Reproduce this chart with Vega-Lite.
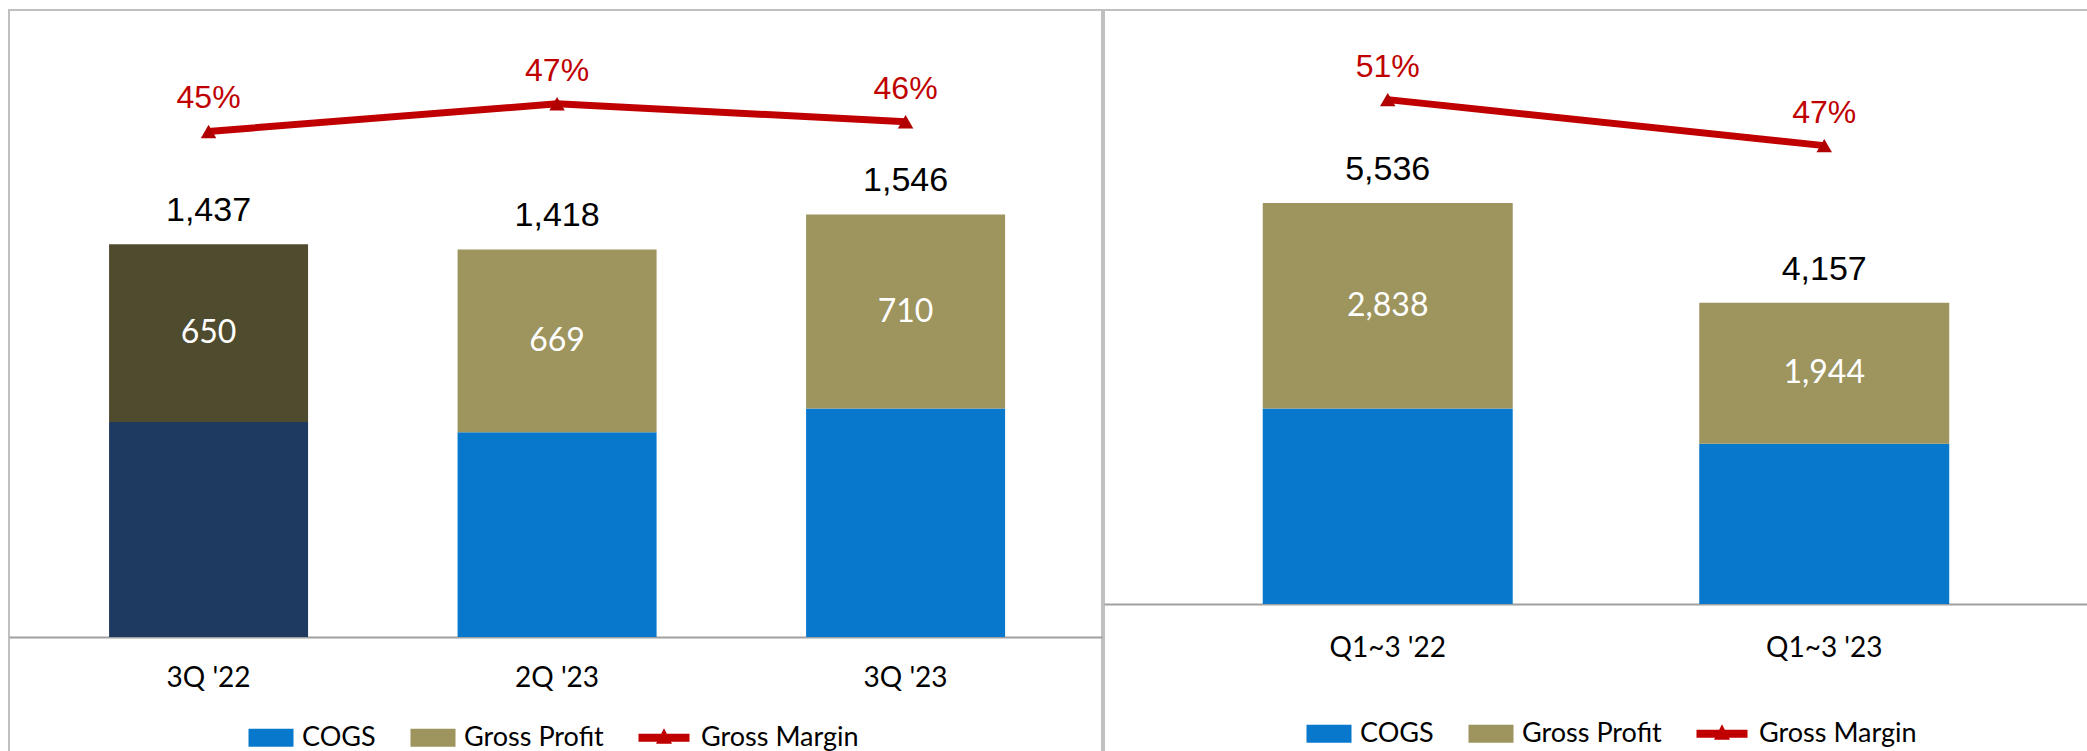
{
  "$schema": "https://vega.github.io/schema/vega-lite/v6.json",
  "padding": {"left": 8, "top": 9, "right": 0, "bottom": 0},
  "spacing": 0,
  "background": "white",
  "datasets": {
    "leftBars": [
      {"period": "3Q '22", "segment": "COGS", "key": "COGS dark", "value": 787},
      {"period": "3Q '22", "segment": "Gross Profit", "key": "Gross Profit dark", "value": 650},
      {"period": "2Q '23", "segment": "COGS", "key": "COGS", "value": 749},
      {"period": "2Q '23", "segment": "Gross Profit", "key": "Gross Profit", "value": 669},
      {"period": "3Q '23", "segment": "COGS", "key": "COGS", "value": 836},
      {"period": "3Q '23", "segment": "Gross Profit", "key": "Gross Profit", "value": 710}
    ],
    "leftTotals": [
      {"period": "3Q '22", "total": 1437, "margin": 0.452},
      {"period": "2Q '23", "total": 1418, "margin": 0.472},
      {"period": "3Q '23", "total": 1546, "margin": 0.459}
    ],
    "rightBars": [
      {"period": "Q1~3 '22", "segment": "COGS", "key": "COGS", "value": 2698},
      {"period": "Q1~3 '22", "segment": "Gross Profit", "key": "Gross Profit", "value": 2838},
      {"period": "Q1~3 '23", "segment": "COGS", "key": "COGS", "value": 2213},
      {"period": "Q1~3 '23", "segment": "Gross Profit", "key": "Gross Profit", "value": 1944}
    ],
    "rightTotals": [
      {"period": "Q1~3 '22", "total": 5536, "margin": 0.513},
      {"period": "Q1~3 '23", "total": 4157, "margin": 0.468}
    ]
  },
  "hconcat": [
    {
      "width": 1093,
      "height": 742,
      "encoding": {
        "x": {
          "field": "period", "type": "nominal", "title": null,
          "sort": ["3Q '22", "2Q '23", "3Q '23"],
          "scale": {"paddingInner": 0.429, "paddingOuter": 0.2826, "align": 0.508},
          "axis": {"offset": -115, "labelPadding": 41}
        }
      },
      "layer": [
        {
          "data": {"name": "leftBars"},
          "layer": [
            {
              "mark": {"type": "bar"},
              "encoding": {
                "y": {"field": "value", "type": "quantitative", "stack": "zero", "scale": {"domain": [-420.8, 2294.2], "nice": false, "zero": false}, "axis": null},
                "order": {"field": "segment"},
                "color": {
                  "field": "key", "type": "nominal",
                  "scale": {"domain": ["COGS", "Gross Profit", "Gross Margin", "COGS dark", "Gross Profit dark"], "range": ["#0878CC", "#9D945E", "#C00000", "#1E3A60", "#4F4B2F"]},
                  "legend": {
                    "values": ["COGS", "Gross Profit", "Gross Margin"], "title": null,
                    "orient": "none", "legendX": 261, "legendY": 714, "direction": "horizontal",
                    "encode": {"symbols": {"update": {"shape": {"signal": "datum.value === 'Gross Margin' ? 'M-4.4,-0.4H0.7V0.4H-4.4Z M-1.85,-0.95L-1.05,0.6H-2.65Z' : 'M-3.5,-0.9H1V0.9H-3.5Z'"}}}}
                  }
                }
              }
            },
            {
              "mark": {"type": "text", "font": "Lato", "fontSize": 32, "color": "white", "baseline": "middle"},
              "encoding": {
                "y": {"field": "value", "type": "quantitative", "stack": "zero", "bandPosition": 0.5, "scale": {"domain": [-420.8, 2294.2], "nice": false, "zero": false}, "axis": null},
                "order": {"field": "segment"},
                "detail": {"field": "segment"},
                "text": {"condition": {"test": "datum.segment === 'Gross Profit'", "field": "value", "type": "quantitative", "format": ","}, "value": ""}
              }
            }
          ]
        },
        {
          "data": {"name": "leftTotals"},
          "mark": {"type": "text", "font": "Liberation Sans", "fontSize": 34, "color": "black", "baseline": "middle", "dy": -33},
          "encoding": {
            "y": {"field": "total", "type": "quantitative", "scale": {"domain": [-420.8, 2294.2], "nice": false, "zero": false}, "axis": null},
            "text": {"field": "total", "type": "quantitative", "format": ","}
          }
        },
        {
          "data": {"name": "leftTotals"},
          "encoding": {
            "y": {"field": "margin", "type": "quantitative", "scale": {"domain": [0.0039, 0.5397], "nice": false, "zero": false}, "axis": null}
          },
          "layer": [
            {"mark": {"type": "line", "color": "#C00000", "strokeWidth": 7}},
            {"mark": {"type": "point", "shape": "triangle-up", "filled": true, "size": 240, "color": "#B00000", "opacity": 1}},
            {
              "mark": {"type": "text", "font": "Liberation Sans", "fontSize": 32, "color": "#C00000", "baseline": "middle", "dy": -33},
              "encoding": {"text": {"field": "margin", "type": "quantitative", "format": ".0%"}}
            }
          ]
        }
      ],
      "resolve": {"scale": {"y": "independent"}}
    },
    {
      "width": 986,
      "height": 742,
      "encoding": {
        "x": {
          "field": "period", "type": "nominal", "title": null,
          "sort": ["Q1~3 '22", "Q1~3 '23"],
          "scale": {"paddingInner": 0.4273, "paddingOuter": 0.3431, "align": 0.53},
          "axis": {"offset": -148, "labelPadding": 44}
        }
      },
      "layer": [
        {
          "data": {"name": "rightBars"},
          "layer": [
            {
              "mark": {"type": "bar"},
              "encoding": {
                "y": {"field": "value", "type": "quantitative", "stack": "zero", "scale": {"domain": [-2043, 8199], "nice": false, "zero": false}, "axis": null},
                "order": {"field": "segment"},
                "color": {
                  "field": "key", "type": "nominal",
                  "scale": {"domain": ["COGS", "Gross Profit", "Gross Margin", "COGS dark", "Gross Profit dark"], "range": ["#0878CC", "#9D945E", "#C00000", "#1E3A60", "#4F4B2F"]},
                  "legend": {
                    "values": ["COGS", "Gross Profit", "Gross Margin"], "title": null,
                    "orient": "none", "legendX": 224, "legendY": 710, "direction": "horizontal",
                    "encode": {"symbols": {"update": {"shape": {"signal": "datum.value === 'Gross Margin' ? 'M-4.4,-0.4H0.7V0.4H-4.4Z M-1.85,-0.95L-1.05,0.6H-2.65Z' : 'M-3.5,-0.9H1V0.9H-3.5Z'"}}}}
                  }
                }
              }
            },
            {
              "mark": {"type": "text", "font": "Lato", "fontSize": 32, "color": "white", "baseline": "middle"},
              "encoding": {
                "y": {"field": "value", "type": "quantitative", "stack": "zero", "bandPosition": 0.5, "scale": {"domain": [-2043, 8199], "nice": false, "zero": false}, "axis": null},
                "order": {"field": "segment"},
                "detail": {"field": "segment"},
                "text": {"condition": {"test": "datum.segment === 'Gross Profit'", "field": "value", "type": "quantitative", "format": ","}, "value": ""}
              }
            }
          ]
        },
        {
          "data": {"name": "rightTotals"},
          "mark": {"type": "text", "font": "Liberation Sans", "fontSize": 34, "color": "black", "baseline": "middle", "dy": -33},
          "encoding": {
            "y": {"field": "total", "type": "quantitative", "scale": {"domain": [-2043, 8199], "nice": false, "zero": false}, "axis": null},
            "text": {"field": "total", "type": "quantitative", "format": ","}
          }
        },
        {
          "data": {"name": "rightTotals"},
          "encoding": {
            "y": {"field": "margin", "type": "quantitative", "scale": {"domain": [-0.1254, 0.6007], "nice": false, "zero": false}, "axis": null}
          },
          "layer": [
            {"mark": {"type": "line", "color": "#C00000", "strokeWidth": 7}},
            {"mark": {"type": "point", "shape": "triangle-up", "filled": true, "size": 240, "color": "#B00000", "opacity": 1}},
            {
              "mark": {"type": "text", "font": "Liberation Sans", "fontSize": 32, "color": "#C00000", "baseline": "middle", "dy": -33},
              "encoding": {"text": {"field": "margin", "type": "quantitative", "format": ".0%"}}
            }
          ]
        }
      ],
      "resolve": {"scale": {"y": "independent"}}
    }
  ],
  "resolve": {"scale": {"x": "independent", "y": "independent", "color": "independent"}, "legend": {"color": "independent"}},
  "config": {
    "view": {"stroke": "#C0C0C0", "strokeWidth": 2},
    "axis": {
      "grid": false, "ticks": false, "tickSize": 0, "domainColor": "#A0A0A0", "domainWidth": 2,
      "labelFont": "Lato", "labelFontSize": 28, "labelColor": "#000000", "labelAngle": 0,
      "labelBaseline": "middle"
    },
    "legend": {
      "symbolSize": 400, "symbolStrokeWidth": 0, "symbolOpacity": 1, "labelFont": "Lato", "labelFontSize": 27,
      "labelColor": "#000000", "labelOffset": 5, "columnPadding": 34, "padding": 0
    }
  }
}
